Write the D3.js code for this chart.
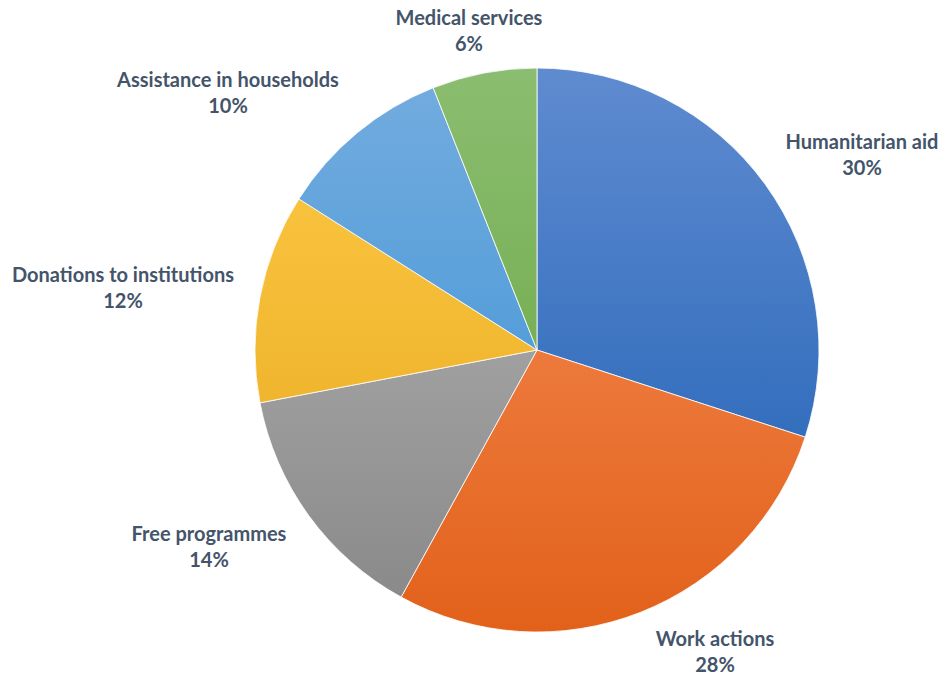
<!DOCTYPE html>
<html>
<head>
<meta charset="utf-8">
<script src="https://cdn.jsdelivr.net/npm/d3@7"></script>
<style>
  html, body { margin: 0; padding: 0; background: #fff; }
  svg { display: block; }
  .lbl { font-family: Lato, "Open Sans", sans-serif; font-weight: 700; font-size: 20px; fill: #44546a; }
</style>
</head>
<body>
<svg id="chart" width="943" height="677"></svg>
<script>
// Share of activities (percent), clockwise from 12 o'clock
const categories = ["Humanitarian aid", "Work actions", "Free programmes", "Donations to institutions", "Assistance in households", "Medical services"];
const values = [30, 28, 14, 12, 10, 6];
// Vertical gradient stops for each slice: [top colour, bottom colour]
const colorsTop = ["#5f8bd0", "#f7925e", "#b9b9b9", "#ffcb48", "#74acdf", "#8bbd70"];
const colorsBottom = ["#1c5fb3", "#e2611a", "#878787", "#e5a61c", "#3590d4", "#63a33a"];
// Label anchor: centre x and baseline of the first line
const labelPos = [[862, 149], [715, 646], [209, 541], [123, 282], [228, 87], [469, 25]];

const svg = d3.select("#chart");
const cx = 537, cy = 350, r = 282;

const defs = svg.append("defs");
categories.forEach((c, i) => {
  const g = defs.append("linearGradient")
    .attr("id", "grad" + i)
    .attr("gradientUnits", "userSpaceOnUse")
    .attr("x1", 0).attr("y1", -r)
    .attr("x2", 0).attr("y2", r);
  g.append("stop").attr("offset", "0%").attr("stop-color", colorsTop[i]);
  g.append("stop").attr("offset", "100%").attr("stop-color", colorsBottom[i]);
});

const pie = d3.pie().sort(null).value(d => d.value);
const arc = d3.arc().innerRadius(0).outerRadius(r);
const data = categories.map((c, i) => ({ name: c, value: values[i], i }));

svg.append("g")
  .attr("transform", `translate(${cx},${cy})`)
  .selectAll("path")
  .data(pie(data))
  .join("path")
  .attr("d", arc)
  .attr("fill", d => `url(#grad${d.data.i})`)
  .attr("stroke", "#ffffff")
  .attr("stroke-width", 0.8);

const labels = svg.append("g");
data.forEach((d, i) => {
  const [x, y] = labelPos[i];
  const t = labels.append("text")
    .attr("class", "lbl")
    .attr("text-anchor", "middle");
  t.append("tspan").attr("x", x).attr("y", y).text(d.name);
  t.append("tspan").attr("x", x).attr("y", y + 26).text(d3.format(".0%")(d.value / 100));
});
</script>
</body>
</html>
